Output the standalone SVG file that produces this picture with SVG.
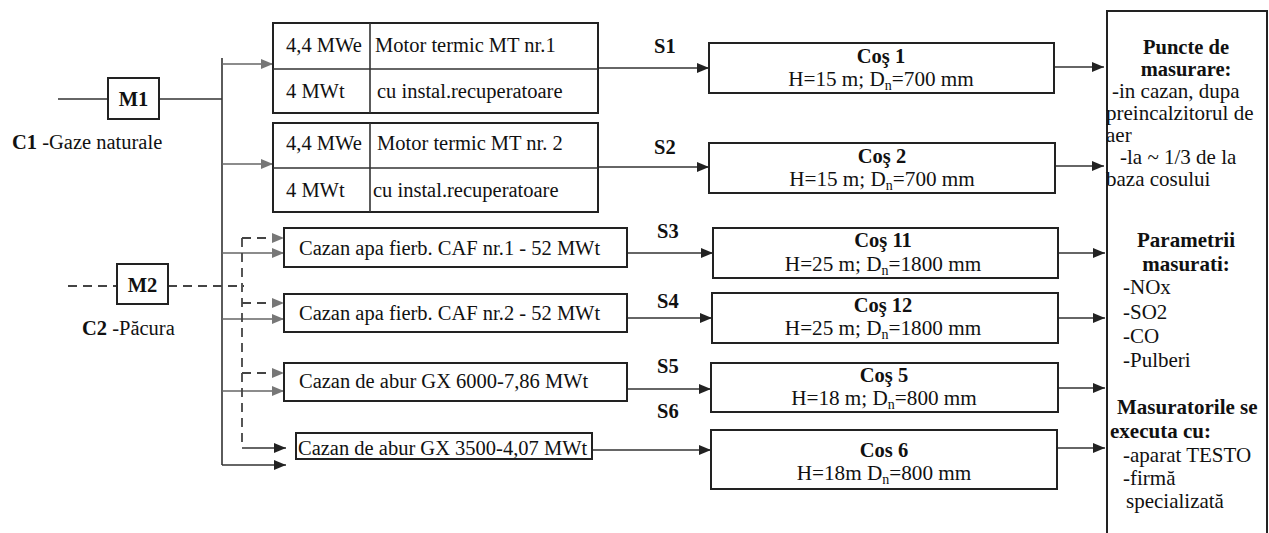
<svg xmlns="http://www.w3.org/2000/svg" width="1269" height="533" viewBox="0 0 1269 533" font-family="'Liberation Serif', 'Times New Roman', 'DejaVu Serif', serif">
<style>
text{font-family:'Liberation Serif','Times New Roman','DejaVu Serif',serif;font-size:20.5px;fill:#111}
.b{font-weight:bold}
.c{text-anchor:middle}
.r{font-size:21px}
.rb{font-size:21px}
.h{font-size:21.2px}
.box{fill:#fff;stroke:#222;stroke-width:2}
.ln{fill:none;stroke:#333;stroke-width:1.6}
.gl{fill:none;stroke:#666;stroke-width:1.6}
.dl{fill:none;stroke:#444;stroke-width:1.8;stroke-dasharray:9 6}
.sub{font-size:14px}
</style>
<defs>
<marker id="ab" markerWidth="12" markerHeight="10" refX="12" refY="5" orient="auto" markerUnits="userSpaceOnUse"><path d="M0,0 L12,5 L0,10 Z" fill="#222"/></marker>
<marker id="ag" markerWidth="12" markerHeight="10" refX="12" refY="5" orient="auto" markerUnits="userSpaceOnUse"><path d="M0,0 L12,5 L0,10 Z" fill="#777"/></marker>
</defs>
<rect width="1269" height="533" fill="#fff"/>

<g id="connectors">
<line class="ln" x1="58" y1="99" x2="108" y2="99"/>
<line class="ln" x1="159" y1="99" x2="222" y2="99"/>
<line class="ln" x1="222" y1="58" x2="222" y2="465"/>
<line class="gl" x1="222" y1="64" x2="273" y2="64" marker-end="url(#ag)"/>
<line class="gl" x1="222" y1="164" x2="273" y2="164" marker-end="url(#ag)"/>
<line class="gl" x1="222" y1="253" x2="284" y2="253" marker-end="url(#ag)"/>
<line class="gl" x1="222" y1="319" x2="284" y2="319" marker-end="url(#ag)"/>
<line class="gl" x1="222" y1="391" x2="284" y2="391" marker-end="url(#ag)"/>
<line class="ln" x1="222" y1="465" x2="286" y2="465" marker-end="url(#ab)"/>
<line class="dl" x1="68" y1="286" x2="117" y2="286"/>
<line class="dl" x1="168" y1="286" x2="244" y2="286"/>
<line class="dl" x1="242" y1="238" x2="242" y2="448"/>
<line class="dl" x1="242" y1="238" x2="284" y2="238" marker-end="url(#ag)"/>
<line class="dl" x1="242" y1="303" x2="284" y2="303" marker-end="url(#ag)"/>
<line class="dl" x1="242" y1="373" x2="284" y2="373" marker-end="url(#ag)"/>
<line class="ln" x1="242" y1="448" x2="286" y2="448" marker-end="url(#ab)"/>
<line class="ln" x1="598" y1="68" x2="709" y2="68" marker-end="url(#ab)"/>
<line class="ln" x1="598" y1="167" x2="709" y2="167" marker-end="url(#ab)"/>
<line class="ln" x1="627" y1="253" x2="713" y2="253" marker-end="url(#ab)"/>
<line class="ln" x1="627" y1="318" x2="712" y2="318" marker-end="url(#ab)"/>
<line class="ln" x1="627" y1="389" x2="711" y2="389" marker-end="url(#ab)"/>
<line class="ln" x1="592" y1="450" x2="711" y2="450" marker-end="url(#ab)"/>
<line class="ln" x1="1054" y1="67" x2="1104" y2="67" marker-end="url(#ab)"/>
<line class="ln" x1="1055" y1="166" x2="1104" y2="166" marker-end="url(#ab)"/>
<line class="ln" x1="1058" y1="253" x2="1105" y2="253" marker-end="url(#ab)"/>
<line class="ln" x1="1058" y1="318" x2="1105" y2="318" marker-end="url(#ab)"/>
<line class="ln" x1="1058" y1="388" x2="1105" y2="388" marker-end="url(#ab)"/>
<line class="ln" x1="1057" y1="448" x2="1105" y2="448" marker-end="url(#ab)"/>
<text class="b" x="654" y="53">S1</text>
<text class="b" x="654" y="154">S2</text>
<text class="b" x="657" y="238">S3</text>
<text class="b" x="657" y="308">S4</text>
<text class="b" x="657" y="373">S5</text>
<text class="b" x="657" y="418">S6</text>
</g>

<g id="M1">
<rect class="box" x="108" y="78" width="51" height="41"/>
<text class="b c" x="133.5" y="106">M1</text>
<text x="12" y="149"><tspan class="b">C1</tspan> -Gaze naturale</text>
</g>
<g id="M2">
<rect class="box" x="117" y="264" width="51" height="40"/>
<text class="b c" x="142.5" y="292">M2</text>
<text x="82" y="335"><tspan class="b">C2</tspan> -Păcura</text>
</g>

<g id="MT1">
<rect class="box" x="273" y="23" width="325" height="90"/>
<line class="ln" x1="273" y1="69" x2="598" y2="69" stroke-width="2"/>
<line class="ln" x1="370" y1="23" x2="370" y2="113" stroke-width="2"/>
<text x="286" y="52">4,4 MWe</text>
<text x="375" y="52">Motor termic MT nr.1</text>
<text x="286" y="98">4 MWt</text>
<text x="377" y="98">cu instal.recuperatoare</text>
</g>
<g id="MT2">
<rect class="box" x="273" y="123" width="325" height="89"/>
<line class="ln" x1="273" y1="168" x2="598" y2="168" stroke-width="2"/>
<line class="ln" x1="370" y1="123" x2="370" y2="212" stroke-width="2"/>
<text x="286" y="150">4,4 MWe</text>
<text x="377" y="150">Motor termic MT nr. 2</text>
<text x="286" y="197">4 MWt</text>
<text x="373" y="197">cu instal.recuperatoare</text>
</g>

<g id="CAF1">
<rect class="box" x="284" y="228" width="343" height="39"/>
<text x="299" y="255">Cazan apa fierb. CAF nr.1 - 52 MWt</text>
</g>
<g id="CAF2">
<rect class="box" x="284" y="294" width="343" height="38"/>
<text x="299" y="320">Cazan apa fierb. CAF nr.2 - 52 MWt</text>
</g>
<g id="GX6000">
<rect class="box" x="284" y="363" width="343" height="38"/>
<text x="299" y="388">Cazan de abur GX 6000-7,86 MWt</text>
</g>
<g id="GX3500">
<rect class="box" x="296" y="433" width="296" height="26" stroke-width="1.5"/>
<text x="298" y="455">Cazan de abur GX 3500-4,07 MWt</text>
</g>

<g id="Cos1">
<rect class="box" x="709" y="43" width="345" height="50"/>
<text class="b c" x="881" y="63">Coş 1</text>
<text class="c h" x="881" y="86">H=15 m; D<tspan class="sub" dy="4">n</tspan><tspan dy="-4">=700 mm</tspan></text>
</g>
<g id="Cos2">
<rect class="box" x="709" y="143" width="346" height="50"/>
<text class="b c" x="882" y="163">Coş 2</text>
<text class="c h" x="882" y="186">H=15 m; D<tspan class="sub" dy="4">n</tspan><tspan dy="-4">=700 mm</tspan></text>
</g>
<g id="Cos11">
<rect class="box" x="713" y="228" width="345" height="50"/>
<text class="b c" x="883" y="247">Coş 11</text>
<text class="c h" x="883" y="271">H=25 m; D<tspan class="sub" dy="4">n</tspan><tspan dy="-4">=1800 mm</tspan></text>
</g>
<g id="Cos12">
<rect class="box" x="712" y="293" width="346" height="50"/>
<text class="b c" x="883" y="312">Coş 12</text>
<text class="c h" x="883" y="335">H=25 m; D<tspan class="sub" dy="4">n</tspan><tspan dy="-4">=1800 mm</tspan></text>
</g>
<g id="Cos5">
<rect class="box" x="711" y="363" width="347" height="49"/>
<text class="b c" x="884" y="382">Coş 5</text>
<text class="c h" x="884" y="405">H=18 m; D<tspan class="sub" dy="4">n</tspan><tspan dy="-4">=800 mm</tspan></text>
</g>
<g id="Cos6">
<rect class="box" x="711" y="430" width="346" height="59"/>
<text class="b c" x="884" y="457">Cos 6</text>
<text class="c h" x="884" y="480">H=18m D<tspan class="sub" dy="4">n</tspan><tspan dy="-4">=800 mm</tspan></text>
</g>

<g id="Masurare">
<rect class="box" x="1107" y="11" width="160" height="540"/>
<text class="b c" x="1186" y="54">Puncte de</text>
<text class="b c" x="1186" y="76">masurare:</text>
<text class="r" x="1112" y="98">-in cazan, dupa</text>
<text class="r" x="1106" y="120">preincalzitorul de</text>
<text class="r" x="1106" y="142">aer</text>
<text class="r" x="1120" y="164">-la ~ 1/3 de la</text>
<text class="r" x="1106" y="186">baza cosului</text>
<text class="b c rb" x="1186" y="247">Parametrii</text>
<text class="b c rb" x="1186" y="271">masurati:</text>
<text class="r" x="1123" y="294">-NOx</text>
<text class="r" x="1123" y="319">-SO2</text>
<text class="r" x="1123" y="343">-CO</text>
<text class="r" x="1123" y="367">-Pulberi</text>
<text class="b rb" x="1117" y="414">Masuratorile se</text>
<text class="b rb" x="1110" y="438">executa cu:</text>
<text class="r" x="1123" y="462">-aparat TESTO</text>
<text class="r" x="1123" y="485">-firmă</text>
<text class="r" x="1126" y="508">specializată</text>
</g>
</svg>
